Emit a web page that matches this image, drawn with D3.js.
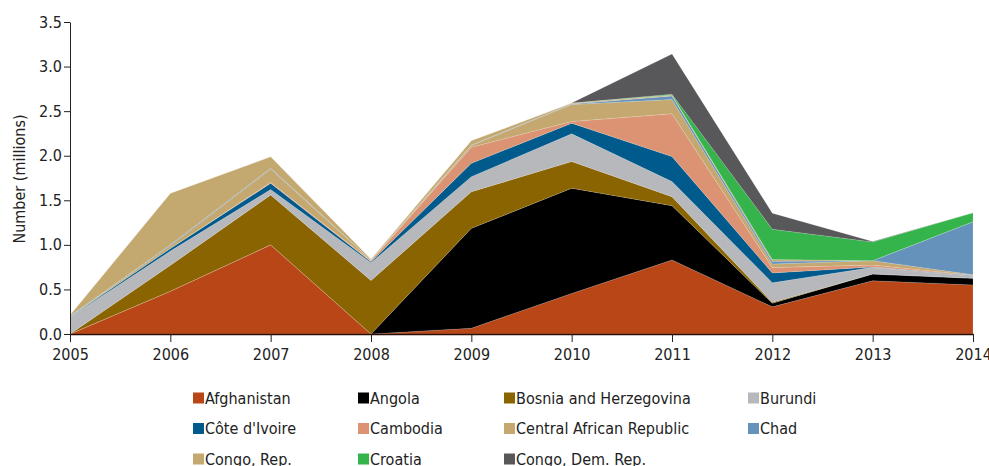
<!DOCTYPE html>
<html>
<head>
<meta charset="utf-8">
<script src="https://cdn.jsdelivr.net/npm/d3@7"></script>
<style>
  html, body { margin: 0; padding: 0; background: #fff; }
  svg text { font-family: "Liberation Sans Narrow", "DejaVu Sans Condensed", "Roboto", sans-serif; fill: #222; }
</style>
</head>
<body>
<svg id="chart" width="989" height="466"></svg>
<script>
const years = [2005, 2006, 2007, 2008, 2009, 2010, 2011, 2012, 2013, 2014];
const countries = ["Afghanistan", "Angola", "Bosnia and Herzegovina", "Burundi", "Côte d'Ivoire", "Cambodia", "Central African Republic", "Chad", "Congo, Rep.", "Croatia", "Congo, Dem. Rep."];
const colors = ["#b84616", "#000000", "#8a6400", "#b7b8bc", "#005a8c", "#db9373", "#c4a870", "#6592bb", "#c3a86f", "#34b44a", "#58585a"];

const afghanistan = [0, 0.48, 1.0, 0, 0.065, 0.455, 0.83, 0.305, 0.598, 0.55];
const angola      = [0, 0, 0, 0, 1.12, 1.18, 0.61, 0.04, 0.075, 0.075];
const bosnia      = [0, 0.29, 0.56, 0.60, 0.41, 0.30, 0.10, 0.01, 0, 0];
const burundi     = [0.19, 0.16, 0.06, 0.20, 0.17, 0.31, 0.17, 0.22, 0.075, 0.025];
const coteIvoire  = [0.005, 0.03, 0.07, 0.01, 0.15, 0.12, 0.28, 0.11, 0.005, 0.005];
const cambodia    = [0, 0, 0.01, 0.01, 0.18, 0.02, 0.48, 0.06, 0.02, 0.005];
const car         = [0.005, 0.03, 0.15, 0.01, 0.02, 0.19, 0.16, 0.04, 0.05, 0.005];
const chad        = [0.002, 0.01, 0.01, 0.002, 0.005, 0.005, 0.04, 0.03, 0.0, 0.595];
const congoRep    = [0.01, 0.58, 0.13, 0.01, 0.05, 0.01, 0.01, 0.02, 0.0, 0.0];
const croatia     = [0, 0, 0, 0, 0, 0, 0.01, 0.34, 0.21, 0.10];
const congoDR     = [0, 0, 0, 0, 0, 0, 0.45, 0.18, 0.005, 0];

const series = [afghanistan, angola, bosnia, burundi, coteIvoire, cambodia, car, chad, congoRep, croatia, congoDR];
const yTicks = [0, 0.5, 1.0, 1.5, 2.0, 2.5, 3.0, 3.5];

const table = years.map((yr, i) => {
  const row = { year: yr };
  countries.forEach((c, k) => { row[c] = series[k][i]; });
  return row;
});

const svg = d3.select("#chart");
const m = { left: 70, right: 16, top: 22, bottom: 132 };
const W = 989, H = 466;
const x = d3.scaleLinear().domain([2005, 2014]).range([m.left, W - m.right]);
const y = d3.scaleLinear().domain([0, 3.5]).range([H - m.bottom, m.top]);

const stack = d3.stack().keys(countries);
const layers = stack(table);
const area = d3.area()
  .x(d => x(d.data.year))
  .y0(d => y(d[0]))
  .y1(d => y(d[1]));

svg.append("g").selectAll("path")
  .data(layers)
  .join("path")
  .attr("d", area)
  .attr("fill", (d, i) => colors[i])
  .attr("stroke", "#ffffff")
  .attr("stroke-opacity", 0.35)
  .attr("stroke-width", 0.4);

// y axis
const yAxis = svg.append("g")
  .attr("transform", `translate(${m.left},0)`)
  .call(d3.axisLeft(y).tickValues(yTicks).tickFormat(d3.format(".1f")).tickSize(6).tickSizeOuter(0));
yAxis.select(".domain").attr("stroke", "#222");
yAxis.selectAll(".tick line").attr("stroke", "#222");
yAxis.selectAll("text").attr("font-size", 16).attr("x", -8).style("font-family", null);

// x axis
const xAxis = svg.append("g")
  .attr("transform", `translate(0,${y(0)})`)
  .call(d3.axisBottom(x).tickValues(years).tickFormat(d3.format("d")).tickSize(8).tickSizeOuter(0));
xAxis.select(".domain").attr("stroke", "#2a0e05").attr("stroke-width", 1.6);
xAxis.selectAll(".tick line").attr("stroke", "#222");
xAxis.selectAll("text").attr("font-size", 16).attr("y", 15).style("font-family", null);

// y axis title
svg.append("text")
  .attr("transform", `translate(25,${(y(0) + y(3.5)) / 2 + 1}) rotate(-90)`)
  .attr("text-anchor", "middle")
  .attr("font-size", 16)
  .text("Number (millions)");

// legend
const colX = [193, 358, 504, 748];
const rowY = [398, 428.5, 459];
const leg = svg.append("g");
countries.forEach((c, i) => {
  const col = i % 4, row = Math.floor(i / 4);
  const g = leg.append("g").attr("transform", `translate(${colX[col]},${rowY[row]})`);
  g.append("rect").attr("x", 0).attr("y", -5.5).attr("width", 11).attr("height", 11).attr("fill", colors[i]);
  g.append("text").attr("x", 12).attr("y", 0).attr("dy", "0.36em").attr("font-size", 16).text(c);
});
</script>
</body>
</html>
